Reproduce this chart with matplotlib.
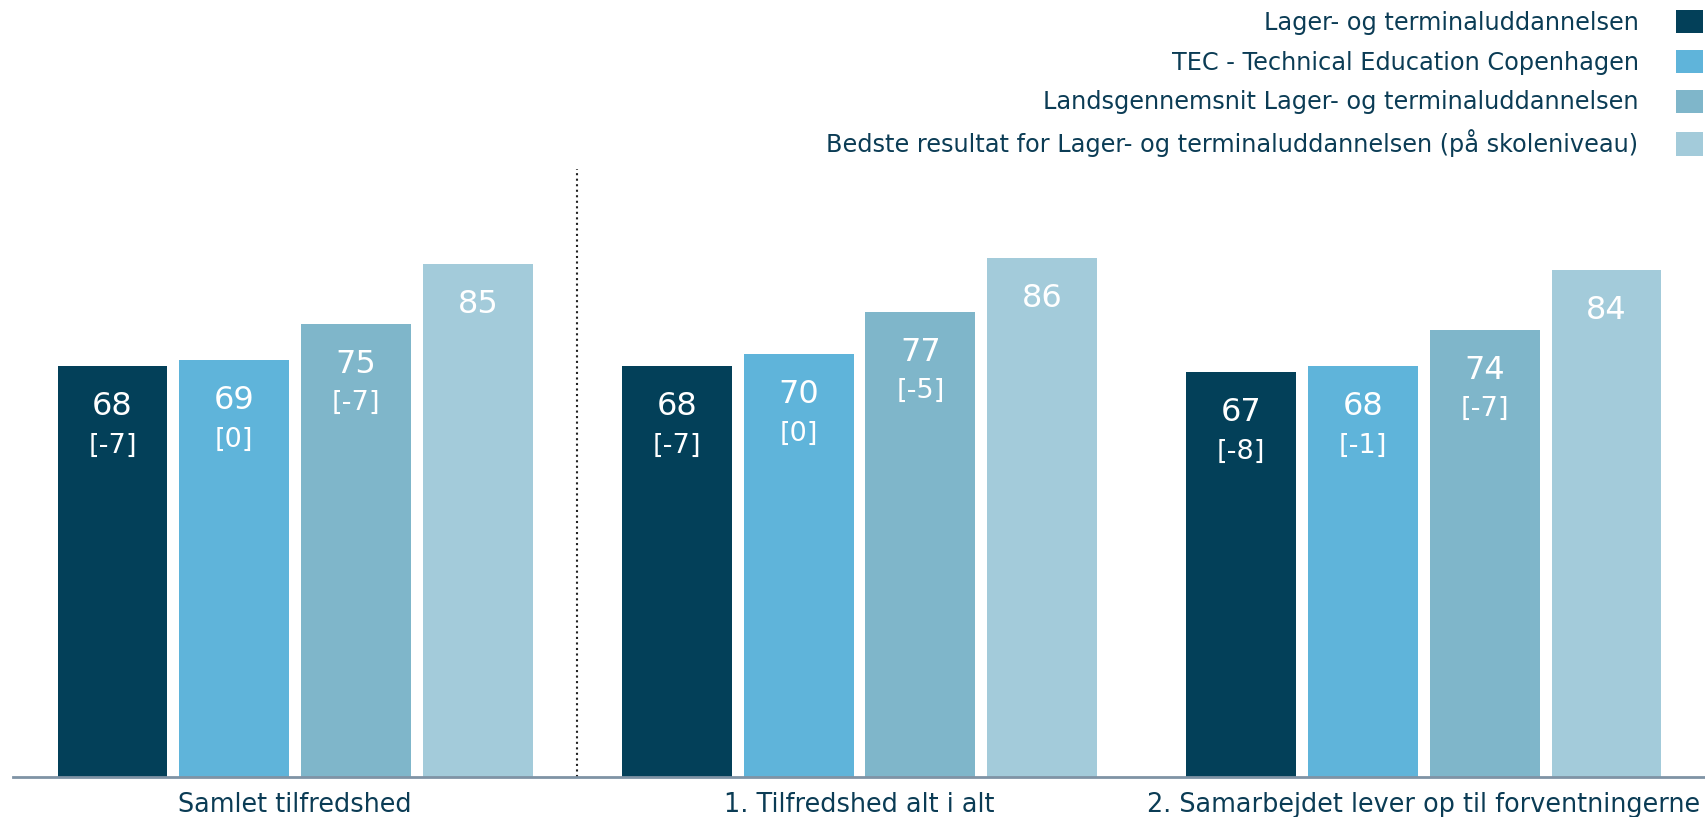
import matplotlib.pyplot as plt
import numpy as np

plt.rcParams['font.family'] = ['DejaVu Sans']

categories = ['Samlet tilfredshed', '1. Tilfredshed alt i alt',
              '2. Samarbejdet lever op til forventningerne']
series = ['Lager- og terminaluddannelsen',
          'TEC - Technical Education Copenhagen',
          'Landsgennemsnit Lager- og terminaluddannelsen',
          'Bedste resultat for Lager- og terminaluddannelsen (på skoleniveau)']
values = [
    [68, 68, 67],
    [69, 70, 68],
    [75, 77, 74],
    [85, 86, 84],
]
diffs = [
    ['[-7]', '[-7]', '[-8]'],
    ['[0]', '[0]', '[-1]'],
    ['[-7]', '[-5]', '[-7]'],
    [None, None, None],
]
colors = ['#034059', '#5fb4da', '#7fb6ca', '#a3cbda']
text_color = '#0b3c55'

fig = plt.figure(figsize=(17.06, 8.17), dpi=100)
ax = fig.add_axes([13 / 1706, 1 - 777 / 817, 1 - 13 / 1706, (777 - 169) / 817])

x = np.arange(len(categories))
step = 0.2158
width = 0.1946
for i, name in enumerate(series):
    pos = x + (i - 1.5) * step
    bars = ax.bar(pos, values[i], width=width, color=colors[i], label=name)
    for j, b in enumerate(bars):
        top = b.get_height()
        ax.annotate(str(values[i][j]), (b.get_x() + b.get_width() / 2, top),
                    xytext=(0, -29), textcoords='offset points',
                    ha='center', va='center', color='white', fontsize=23)
        if diffs[i][j] is not None:
            ax.annotate(diffs[i][j], (b.get_x() + b.get_width() / 2, top),
                        xytext=(0, -57), textcoords='offset points',
                        ha='center', va='center', color='white', fontsize=19.5)

ax.axvline(0.5, color='#222222', ls=':', lw=1.5)

ax.set_xlim(-0.5, 2.5)
ax.set_ylim(0, 100.7)
ax.set_xticks(x)
ax.set_xticklabels(categories, fontsize=18.4, color=text_color)
ax.tick_params(axis='x', length=0, pad=11)
ax.set_yticks([])
for s in ['top', 'right', 'left']:
    ax.spines[s].set_visible(False)
ax.spines['bottom'].set_color('#7f93a5')
ax.spines['bottom'].set_linewidth(2)

leg = fig.legend(loc='upper right', bbox_to_anchor=(1.004, 1.0), frameon=False,
                 markerfirst=False, fontsize=17.3, handlelength=1.12, handleheight=1.12,
                 labelspacing=0.62, handletextpad=1.55, borderaxespad=0.0,
                 borderpad=0.42, labelcolor=text_color)

fig.savefig('out.png', dpi=100)
